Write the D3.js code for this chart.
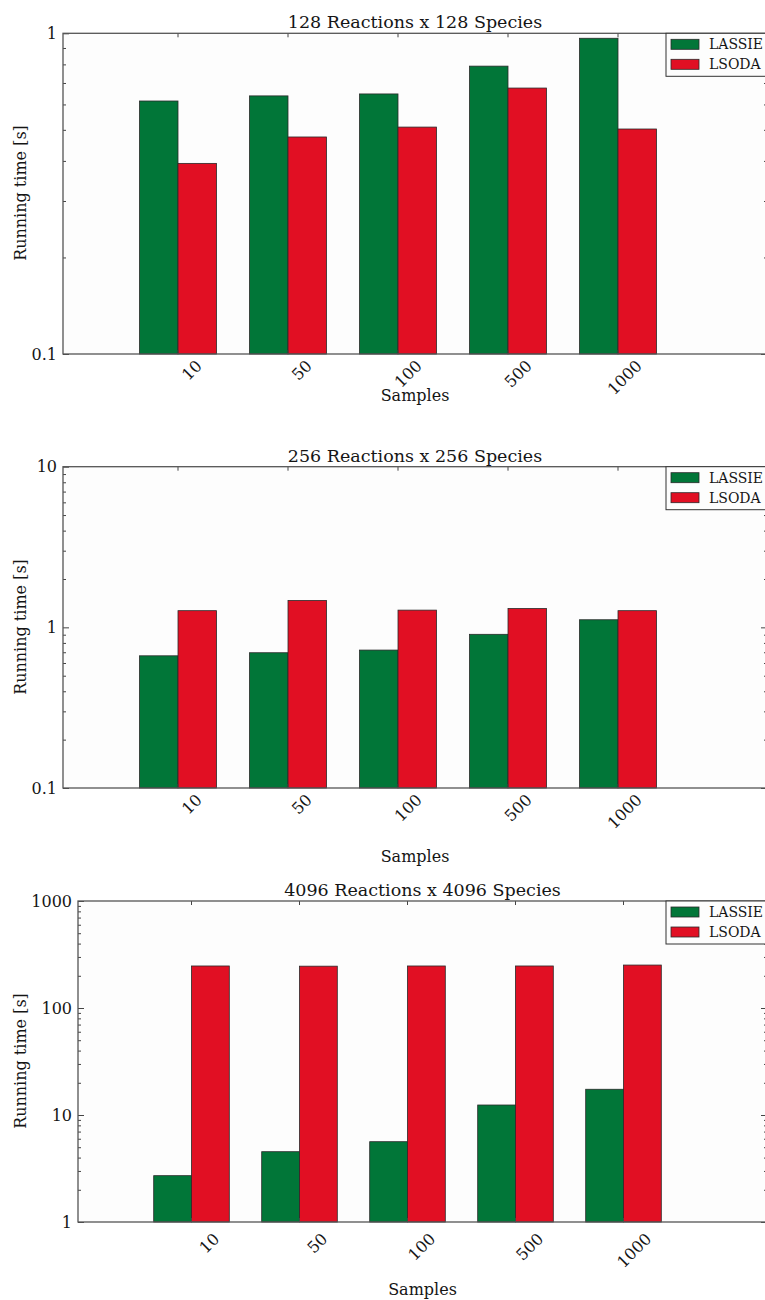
<!DOCTYPE html>
<html>
<head>
<meta charset="utf-8">
<script src="https://cdn.jsdelivr.net/npm/d3@7"></script>
<style>
  body { margin: 0; background: #fff; }
  svg text { font-family: "DejaVu Serif", serif; fill: #151515; }
</style>
</head>
<body>
<div id="chart"></div>
<script>
// data
const samples = ["10", "50", "100", "500", "1000"];
const series = ["LASSIE", "LSODA"];
const colors = ["#017638", "#e10f23"];

const titles = ["128 Reactions x 128 Species", "256 Reactions x 256 Species", "4096 Reactions x 4096 Species"];

const lassie128 = [0.615, 0.638, 0.647, 0.79, 0.965];
const lsoda128 = [0.393, 0.475, 0.51, 0.675, 0.503];
const lassie256 = [0.665, 0.695, 0.722, 0.905, 1.115];
const lsoda256 = [1.27, 1.47, 1.28, 1.31, 1.27];
const lassie4096 = [2.71, 4.54, 5.63, 12.4, 17.4];
const lsoda4096 = [247, 246, 247, 247, 252];

const yDomains = [[0.1, 1], [0.1, 10], [1, 1000]];

// layout of each panel
let panels = [
    {title: titles[0], values: [lassie128, lsoda128], domain: yDomains[0],
     left: 63, right: 767, top: 33.3, bottom: 354, x0: 123, step: 110,
     ylab: 193, xlab: 401, lx: 21, ly: 9},
    {title: titles[1], values: [lassie256, lsoda256], domain: yDomains[1],
     left: 63, right: 767, top: 466.7, bottom: 788, x0: 123, step: 110,
     ylab: 627, xlab: 862, lx: 21, ly: 9},
    {title: titles[2], values: [lassie4096, lsoda4096], domain: yDomains[2],
     left: 78, right: 767, top: 901, bottom: 1222, x0: 137.5, step: 108,
     ylab: 1061, xlab: 1295, lx: 25, ly: 14}
];

let svg = d3.select("#chart").append("svg")
    .attr("width", 765)
    .attr("height", 1300);

panels.forEach(drawPanel);

function drawPanel(p) {
    let g = svg.append("g");

    let x = d3.scaleBand()
        .domain(samples)
        .range([p.x0, p.x0 + samples.length * p.step])
        .paddingInner(0.3)
        .paddingOuter(0.15);
    let xs = d3.scaleBand().domain(series).range([0, x.bandwidth()]);
    let y = d3.scaleLog().domain(p.domain).range([p.bottom, p.top]);

    g.append("rect")
        .attr("x", p.left).attr("y", p.top)
        .attr("width", p.right - p.left).attr("height", p.bottom - p.top)
        .attr("fill", "#fdfdfd");

    // bars
    let rows = samples.map((s, i) => series.map((name, j) => ({sample: s, name: name, j: j, v: p.values[j][i]})));
    g.selectAll(".group")
        .data(rows)
        .enter().append("g")
        .attr("transform", (d, i) => "translate(" + x(samples[i]) + ",0)")
        .selectAll("rect")
        .data(d => d)
        .enter().append("rect")
        .attr("x", d => xs(d.name))
        .attr("y", d => y(d.v))
        .attr("width", xs.bandwidth())
        .attr("height", d => p.bottom - y(d.v))
        .attr("fill", d => colors[d.j])
        .attr("stroke", "#2a2a2a")
        .attr("stroke-width", 0.8);

    // log ticks
    let lo = Math.log10(p.domain[0]), hi = Math.log10(p.domain[1]);
    let majors = d3.range(lo, hi + 1).map(e => Math.pow(10, e));
    let minors = [];
    majors.slice(0, -1).forEach(m => d3.range(2, 10).forEach(k => minors.push(m * k)));

    let fmt = d3.format("~g");
    let leftAxis = g.append("g").attr("transform", "translate(" + p.left + ",0)")
        .call(d3.axisLeft(y).tickValues(majors).tickFormat(fmt).tickSize(-6).tickPadding(6));
    g.append("g").attr("transform", "translate(" + p.left + ",0)")
        .call(d3.axisLeft(y).tickValues(minors).tickFormat("").tickSize(-3));
    g.append("g").attr("transform", "translate(" + p.right + ",0)")
        .call(d3.axisRight(y).tickValues(majors).tickFormat("").tickSize(-6));
    g.append("g").attr("transform", "translate(" + p.right + ",0)")
        .call(d3.axisRight(y).tickValues(minors).tickFormat("").tickSize(-3));
    leftAxis.selectAll("text").style("font-size", "16px");

    let xCenter = s => x(s) + x.bandwidth() / 2;
    g.append("g").attr("transform", "translate(0," + p.top + ")")
        .call(d3.axisTop(x).tickSize(-4).tickFormat(""));
    g.append("g").attr("transform", "translate(0," + p.bottom + ")")
        .call(d3.axisBottom(x).tickSize(-4).tickFormat(""));

    g.selectAll(".domain").remove();
    g.selectAll(".tick line").attr("stroke", "#444");

    // frame
    g.append("rect")
        .attr("x", p.left).attr("y", p.top)
        .attr("width", p.right - p.left).attr("height", p.bottom - p.top)
        .attr("fill", "none")
        .attr("stroke", "#555")
        .attr("stroke-width", 1.3);

    // rotated x labels, right end of the text hangs just right of the tick
    g.selectAll(".xlab")
        .data(samples)
        .enter().append("text")
        .attr("class", "xlab")
        .attr("text-anchor", "end")
        .attr("dy", ".35em")
        .style("font-size", "16px")
        .attr("transform", d => "translate(" + (xCenter(d) + p.lx) + "," + (p.bottom + p.ly) + ")rotate(-45)")
        .text(d => d);

    g.append("text")
        .attr("x", (p.left + p.right) / 2)
        .attr("y", p.top - 5)
        .attr("text-anchor", "middle")
        .style("font-size", "17.5px")
        .text(p.title);

    g.append("text")
        .attr("x", (p.left + p.right) / 2)
        .attr("y", p.xlab)
        .attr("text-anchor", "middle")
        .style("font-size", "16px")
        .text("Samples");

    g.append("text")
        .attr("transform", "translate(26," + p.ylab + ")rotate(-90)")
        .attr("text-anchor", "middle")
        .style("font-size", "16px")
        .text("Running time [s]");

    // legend
    let lg = g.append("g").attr("transform", "translate(" + (p.right - 101) + "," + p.top + ")");
    lg.append("rect")
        .attr("width", 120).attr("height", 43)
        .attr("fill", "#fdfdfd")
        .attr("stroke", "#333")
        .attr("stroke-width", 1);
    series.forEach((name, j) => {
        lg.append("rect")
            .attr("x", 5).attr("y", 6 + j * 20)
            .attr("width", 28).attr("height", 10)
            .attr("fill", colors[j])
            .attr("stroke", "#2a2a2a")
            .attr("stroke-width", 0.8);
        lg.append("text")
            .attr("x", 43).attr("y", 11 + j * 20)
            .attr("dy", ".35em")
            .style("font-size", "14px")
            .text(name);
    });
}
</script>
</body>
</html>
